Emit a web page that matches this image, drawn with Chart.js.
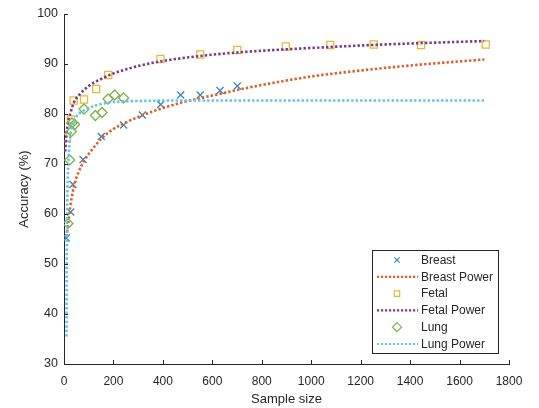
<!DOCTYPE html>
<html>
<head>
<meta charset="utf-8">
<script src="https://cdn.jsdelivr.net/npm/chart.js@4.4.1/dist/chart.umd.min.js"></script>
<style>
html,body{margin:0;padding:0;background:#fff;}
#wrap{width:539px;height:408px;position:relative;}
</style>
</head>
<body>
<div id="wrap"><canvas id="c" width="539" height="408"></canvas></div>
<script>
// ---- data ----
const breastX = [9, 27, 36, 77, 151, 241, 317, 391, 472, 551, 631, 701];
const breastY = [55.2, 60.4, 65.9, 70.9, 75.5, 77.8, 79.8, 81.9, 83.8, 83.8, 84.7, 85.6];

const breastPowerX = [10, 15, 20, 25, 40, 60, 80, 100, 150, 200, 250, 300, 400, 500, 600, 700, 800, 1000, 1200, 1400, 1700];
const breastPowerY = [55.5, 57.5, 59.3, 61.3, 65.5, 68.5, 70.5, 72, 75, 77, 78.3, 79.4, 81.2, 82.6, 83.7, 84.8, 85.8, 87.5, 88.7, 89.7, 90.9];

const fetalX = [11, 28, 39, 81, 130, 179, 390, 551, 701, 897, 1077, 1253, 1444, 1706];
const fetalY = [75.3, 78.9, 82.7, 82.9, 85.0, 87.8, 91.0, 91.9, 92.8, 93.5, 93.8, 93.9, 93.8, 93.9];

const fetalPowerX = [5, 10, 15, 25, 40, 65, 100, 150, 200, 300, 400, 550, 700, 850, 1000, 1200, 1400, 1700];
const fetalPowerY = [72.5, 76, 78, 80, 82.3, 84, 85.6, 87, 88.1, 89.6, 90.6, 91.6, 92.3, 92.8, 93.2, 93.7, 94.1, 94.6];

const lungX = [16, 23, 30, 32, 43, 81, 127, 154, 178, 205, 241];
const lungY = [58.1, 70.8, 76.5, 78.2, 77.9, 81.0, 79.7, 80.3, 83.0, 83.8, 83.2];

const lungPowerX = [10, 11, 12, 14, 17, 23, 30, 45, 60, 100, 150, 200, 300, 500, 1000, 1700];
const lungPowerY = [35.5, 50, 58, 65, 69.5, 74.5, 77, 79, 80, 81.2, 82, 82.4, 82.6, 82.7, 82.7, 82.7];

const xTicks = [0, 200, 400, 600, 800, 1000, 1200, 1400, 1600, 1800];
const yTicks = [30, 40, 50, 60, 70, 80, 90, 100];

const seriesNames = ['Breast', 'Breast Power', 'Fetal', 'Fetal Power', 'Lung', 'Lung Power'];

// ---- styling ----
const cBlue = '#3a86c4', cOrange = '#d9622b', cYellow = '#eab63a', cPurple = '#7a3a8a', cGreen = '#7fb04a', cCyan = '#5ec4ec';
const TXT = '#262626';
const FONT = "'Liberation Sans', Arial, Helvetica, sans-serif";

const pts = (xs, ys) => xs.map((x, i) => ({x, y: ys[i]}));

function lineDs(label, xs, ys, color) {
  return {type: 'line', label, data: pts(xs, ys), borderColor: color, backgroundColor: color,
    borderWidth: 2.6, borderDash: [2.4, 2.1], borderCapStyle: 'butt', pointRadius: 0,
    showLine: true, fill: false, tension: 0.4, cubicInterpolationMode: 'monotone'};
}
function markDs(label, xs, ys, color, style, r) {
  return {type: 'scatter', label, data: pts(xs, ys), borderColor: color, backgroundColor: 'rgba(0,0,0,0)',
    pointStyle: style, pointRadius: r, pointBorderWidth: 1.3, showLine: false};
}

const datasets = [
  markDs(seriesNames[0], breastX, breastY, cBlue, 'crossRot', 5),
  lineDs(seriesNames[1], breastPowerX, breastPowerY, cOrange),
  markDs(seriesNames[2], fetalX, fetalY, cYellow, 'rect', 5),
  lineDs(seriesNames[3], fetalPowerX, fetalPowerY, cPurple),
  markDs(seriesNames[4], lungX, lungY, cGreen, 'rectRot', 5),
  lineDs(seriesNames[5], lungPowerX, lungPowerY, cCyan),
];
// later series on top (like MATLAB)
datasets.forEach((d, i) => d.order = datasets.length - i);

function drawMarker(ctx, style, x, y, r) {
  ctx.beginPath();
  if (style === 'crossRot') {
    ctx.moveTo(x - r * 0.75, y - r * 0.75); ctx.lineTo(x + r * 0.75, y + r * 0.75);
    ctx.moveTo(x + r * 0.75, y - r * 0.75); ctx.lineTo(x - r * 0.75, y + r * 0.75);
  } else if (style === 'rect') {
    const s = r * 0.75;
    ctx.rect(x - s, y - s, 2 * s, 2 * s);
  } else if (style === 'rectRot') {
    ctx.moveTo(x, y - r); ctx.lineTo(x + r, y); ctx.lineTo(x, y + r); ctx.lineTo(x - r, y); ctx.closePath();
  }
  ctx.stroke();
}

const decor = {
  id: 'decor',
  afterDraw(chart) {
    const ctx = chart.ctx;
    const xs = chart.scales.x, ys = chart.scales.y;
    const a = chart.chartArea;
    ctx.save();
    // inward ticks
    ctx.strokeStyle = TXT; ctx.lineWidth = 1;
    ctx.beginPath();
    xTicks.forEach(v => { const p = Math.round(xs.getPixelForValue(v)) + 0.5; ctx.moveTo(p, a.bottom); ctx.lineTo(p, a.bottom - 4); });
    yTicks.forEach(v => { const p = Math.round(ys.getPixelForValue(v)) + 0.5; ctx.moveTo(a.left, p); ctx.lineTo(a.left + 4, p); });
    ctx.stroke();
    // legend
    const bx = 372.5, by = 250.5, bw = 126, bh = 103;
    ctx.fillStyle = '#fff'; ctx.fillRect(bx, by, bw, bh);
    ctx.strokeStyle = TXT; ctx.lineWidth = 1; ctx.strokeRect(bx, by, bw, bh);
    ctx.font = '12px ' + FONT; ctx.textBaseline = 'middle'; ctx.textAlign = 'left';
    chart.data.datasets.forEach((d, i) => {
      const y = 260 + i * 16.8;
      if (d.type === 'line') {
        ctx.strokeStyle = d.borderColor; ctx.lineWidth = 2.2; ctx.setLineDash([2.2, 1.8]); ctx.lineCap = 'butt';
        ctx.beginPath(); ctx.moveTo(377, y); ctx.lineTo(418, y); ctx.stroke(); ctx.setLineDash([]);
      } else {
        ctx.strokeStyle = d.borderColor; ctx.lineWidth = 1.2;
        drawMarker(ctx, d.pointStyle, 397, y, d.pointStyle === 'rectRot' ? 4.5 : 3.6);
      }
      ctx.fillStyle = TXT; ctx.fillText(d.label, 421, y + 0.5);
    });
    ctx.restore();
  }
};

new Chart(document.getElementById('c'), {
  data: {datasets},
  options: {
    responsive: false, animation: false, devicePixelRatio: 1,
    layout: {padding: {top: 14, right: 30, bottom: 0, left: 0}},
    plugins: {legend: {display: false}, tooltip: {enabled: false}},
    scales: {
      x: {
        type: 'linear', min: 0, max: 1800,
        afterFit: s => { s.height = 44; },
        afterBuildTicks: s => { s.ticks = xTicks.map(v => ({value: v})); },
        grid: {display: false, drawTicks: false},
        border: {display: true, color: TXT, width: 1},
        ticks: {color: TXT, font: {family: FONT, size: 12}, padding: 10, maxRotation: 0, autoSkip: false,
          callback: v => String(v)},
        title: {display: true, text: 'Sample size', color: TXT, font: {family: FONT, size: 13}, padding: {top: 0, bottom: 1}}
      },
      y: {
        type: 'linear', min: 30, max: 100,
        afterFit: s => { s.width = 64; },
        afterBuildTicks: s => { s.ticks = yTicks.map(v => ({value: v})); },
        grid: {display: false, drawTicks: false},
        border: {display: true, color: TXT, width: 1},
        ticks: {color: TXT, font: {family: FONT, size: 12.5}, padding: 6, autoSkip: false,
          callback: v => String(v)},
        title: {display: true, text: 'Accuracy (%)', color: TXT, font: {family: FONT, size: 13}, padding: {top: 17, bottom: 0}}
      }
    }
  },
  plugins: [decor]
});
</script>
</body>
</html>
